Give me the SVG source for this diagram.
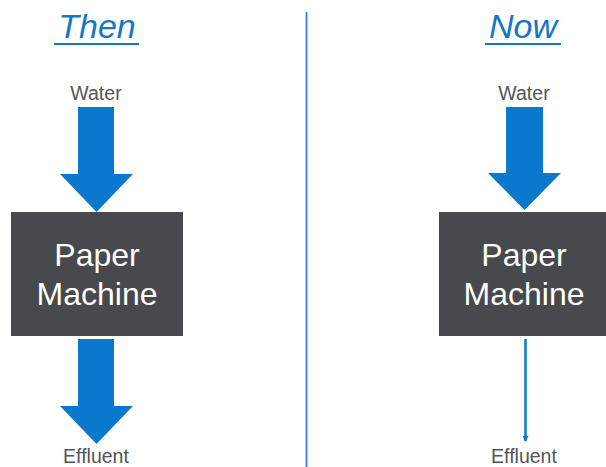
<svg xmlns="http://www.w3.org/2000/svg" width="606" height="467" viewBox="0 0 606 467">
  <defs>
    <style>
      .title { font-family: "Liberation Sans", Arial, sans-serif; font-size: 34px; font-style: italic; fill: #1576c8; text-anchor: middle; }
      .label { font-family: "Liberation Sans", Arial, sans-serif; font-size: 19.5px; fill: #555555; text-anchor: middle; }
      .boxtext { font-family: "Liberation Sans", Arial, sans-serif; font-size: 32px; fill: #ffffff; text-anchor: middle; }
      .box { fill: #48494c; }
      .fat { fill: #0a78cc; }
      .thin { stroke: #0a78cc; stroke-width: 2.5; fill: none; }
    </style>
    <marker id="tip" viewBox="0 0 6 6" refX="5" refY="3" markerWidth="2.4" markerHeight="2.4" markerUnits="strokeWidth" orient="auto">
      <path d="M0,0 L6,3 L0,6 Z" fill="#0a78cc"/>
    </marker>
  </defs>
  <rect width="606" height="467" fill="#ffffff"/>

  <!-- headings -->
  <g id="heading-then">
    <text class="title" x="97" y="38">Then</text>
    <line x1="54" y1="44" x2="139" y2="44" stroke="#1576c8" stroke-width="2"/>
  </g>
  <g id="heading-now">
    <text class="title" x="523" y="38">Now</text>
    <line x1="485" y1="44" x2="561" y2="44" stroke="#1576c8" stroke-width="2"/>
  </g>

  <!-- divider -->
  <line id="divider" x1="306.5" y1="12" x2="306.5" y2="467" stroke="#2f86d6" stroke-width="1.8"/>

  <!-- left side -->
  <g id="water-then"><text class="label" x="96" y="100">Water</text></g>
  <g id="machine-then">
    <rect class="box" x="11" y="212" width="172" height="124"/>
    <text class="boxtext" x="97" y="266">Paper</text>
    <text class="boxtext" x="97" y="305">Machine</text>
  </g>
  <g id="effluent-then"><text class="label" x="96" y="463">Effluent</text></g>

  <!-- right side -->
  <g id="water-now"><text class="label" x="524" y="100">Water</text></g>
  <g id="machine-now">
    <rect class="box" x="439" y="212" width="170" height="124"/>
    <text class="boxtext" x="524" y="266">Paper</text>
    <text class="boxtext" x="524" y="305">Machine</text>
  </g>
  <g id="effluent-now"><text class="label" x="524" y="463">Effluent</text></g>

  <!-- flows -->
  <g id="connectors">
    <path class="fat" d="M78,107 H114 V174 H133 L96.5,212 L60,174 H78 Z"/>
    <path class="fat" d="M78,339 H114 V406 H133 L96.5,444 L60,406 H78 Z"/>
    <path class="fat" d="M506,107 H543 V173 H561 L524.5,210 L488,173 H506 Z"/>
    <line class="thin" x1="525.5" y1="339" x2="525.5" y2="441" marker-end="url(#tip)"/>
  </g>
</svg>
